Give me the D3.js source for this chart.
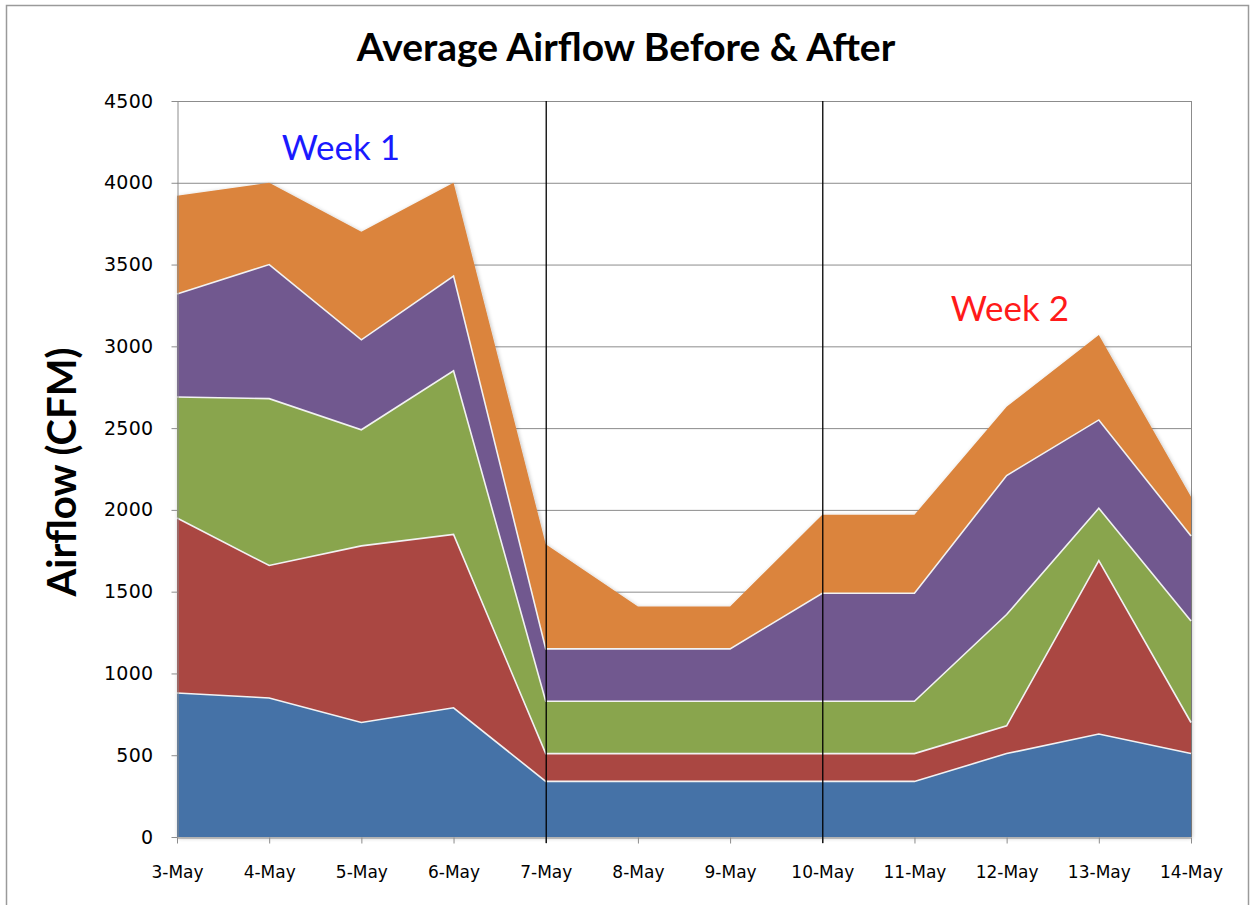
<!DOCTYPE html>
<html>
<head>
<meta charset="utf-8">
<script src="https://cdn.jsdelivr.net/npm/d3@7"></script>
<style>
  html, body { margin: 0; padding: 0; background: #fff; }
  svg { display: block; }
</style>
</head>
<body>
<svg id="chart" width="1251" height="905"></svg>
<script>
// ---- Data ----
const categories = ["3-May","4-May","5-May","6-May","7-May","8-May","9-May","10-May","11-May","12-May","13-May","14-May"];
const series1 = [880, 850, 700, 790, 340, 340, 340, 340, 340, 510, 630, 510];
const series2 = [1070, 810, 1080, 1060, 170, 170, 170, 170, 170, 170, 1060, 190];
const series3 = [740, 1020, 710, 1000, 320, 320, 320, 320, 320, 680, 320, 620];
const series4 = [630, 820, 550, 580, 320, 320, 320, 660, 660, 850, 540, 520];
const series5 = [600, 500, 660, 570, 640, 260, 260, 480, 480, 420, 520, 240];
const seriesNames = ["Series 1","Series 2","Series 3","Series 4","Series 5"];
const yTicks = [0, 500, 1000, 1500, 2000, 2500, 3000, 3500, 4000, 4500];
const markers = ["7-May", "10-May"];
const weekLabels = ["Week 1", "Week 2"];
const colors = ["#4572A7", "#AA4643", "#89A54E", "#71588F", "#DB843D"];

// ---- Layout ----
const svg = d3.select("#chart");
const m = {left: 177, right: 1191, top: 101, bottom: 837};

// outer border
svg.append("rect").attr("x", 6.5).attr("y", 5.5).attr("width", 1242).attr("height", 905)
  .attr("fill", "#fff").attr("stroke", "#9a9a9a").attr("stroke-width", 1.5);

const x = d3.scalePoint().domain(categories).range([m.left, m.right]);
const y = d3.scaleLinear().domain([0, 4500]).range([m.bottom, m.top]);

// shadow filter
const defs = svg.append("defs");
const f = defs.append("filter").attr("id", "shadow").attr("x", "-5%").attr("y", "-5%").attr("width", "110%").attr("height", "110%");
f.append("feGaussianBlur").attr("in", "SourceAlpha").attr("stdDeviation", 2).attr("result", "b");
f.append("feOffset").attr("in", "b").attr("dx", 1).attr("dy", 1).attr("result", "o");
f.append("feComponentTransfer").attr("in", "o").attr("result", "o2")
  .append("feFuncA").attr("type", "linear").attr("slope", 0.25);
const fm = f.append("feMerge");
fm.append("feMergeNode").attr("in", "o2");
fm.append("feMergeNode").attr("in", "SourceGraphic");

// gridlines
svg.append("g").selectAll("line").data(yTicks.filter(d => d > 0)).join("line")
  .attr("x1", m.left).attr("x2", m.right)
  .attr("y1", d => y(d) + 0.5).attr("y2", d => y(d) + 0.5)
  .attr("stroke", "#8c8c8c").attr("stroke-width", 1);

// plot border (right)
svg.append("line").attr("x1", m.right + 0.5).attr("x2", m.right + 0.5)
  .attr("y1", m.top).attr("y2", m.bottom).attr("stroke", "#8c8c8c");

// stacked areas
const rows = categories.map((c, i) => ({cat: c, s0: series1[i], s1: series2[i], s2: series3[i], s3: series4[i], s4: series5[i]}));
const keys = ["s0","s1","s2","s3","s4"];
const stacked = d3.stack().keys(keys)(rows);

const area = d3.area().x(d => x(d.data.cat)).y0(d => y(d[0])).y1(d => y(d[1]));
const topLine = d3.line().x(d => x(d.data.cat)).y(d => y(d[1]));

const gArea = svg.append("g").attr("filter", "url(#shadow)");
gArea.selectAll("path.area").data(stacked).join("path")
  .attr("class", "area")
  .attr("d", area)
  .attr("fill", (d, i) => colors[i]);
gArea.selectAll("path.top").data(stacked.slice(0, 4)).join("path")
  .attr("class", "top")
  .attr("d", topLine)
  .attr("fill", "none").attr("stroke", "#f2f2f2").attr("stroke-width", 1.6);

// axes
const yAxis = d3.axisLeft(y).tickValues(yTicks).tickFormat(d3.format("d"))
  .tickSize(6).tickSizeOuter(0).tickPadding(18);
const gy = svg.append("g").attr("transform", `translate(${m.left + 0.5},0)`).call(yAxis);
gy.select(".domain").attr("stroke", "#8c8c8c");
gy.selectAll(".tick line").attr("stroke", "#8c8c8c");
gy.selectAll(".tick text").attr("font-family", "DejaVu Sans, Verdana, sans-serif")
  .attr("font-size", 19).attr("letter-spacing", 0.3).attr("fill", "#000");

const xAxis = d3.axisBottom(x).tickSize(6).tickSizeOuter(0).tickPadding(22);
const gx = svg.append("g").attr("transform", `translate(0,${m.bottom + 0.5})`).call(xAxis);
gx.select(".domain").attr("stroke", "#8c8c8c");
gx.selectAll(".tick line").attr("stroke", "#8c8c8c");
gx.selectAll(".tick text").attr("font-family", "DejaVu Sans, Verdana, sans-serif")
  .attr("font-size", 17).attr("fill", "#000");

// vertical marker lines
svg.append("g").selectAll("line").data(markers).join("line")
  .attr("x1", d => x(d) + 0.5).attr("x2", d => x(d) + 0.5)
  .attr("y1", m.top).attr("y2", m.bottom + 6)
  .attr("stroke", "#000").attr("stroke-width", 1.3);

// week labels
svg.append("text").attr("x", 341).attr("y", 160).attr("text-anchor", "middle")
  .attr("font-family", "Lato, 'Open Sans', sans-serif")
  .attr("font-size", 35).attr("fill", "#1a1aff").text(weekLabels[0]);
svg.append("text").attr("x", 1010).attr("y", 321).attr("text-anchor", "middle")
  .attr("font-family", "Lato, 'Open Sans', sans-serif")
  .attr("font-size", 35).attr("fill", "#ff1a1a").text(weekLabels[1]);

// title
svg.append("text").attr("x", 626).attr("y", 61).attr("text-anchor", "middle")
  .attr("font-family", "Lato, 'Open Sans', sans-serif").attr("font-weight", "bold")
  .attr("font-size", 39).attr("fill", "#000")
  .text("Average Airflow Before & After");

// y axis title
svg.append("text").attr("transform", "translate(76,472) rotate(-90)")
  .attr("text-anchor", "middle")
  .attr("font-family", "Lato, 'Open Sans', sans-serif").attr("font-weight", "bold")
  .attr("font-size", 40).attr("fill", "#000")
  .text("Airflow (CFM)");
</script>
</body>
</html>
